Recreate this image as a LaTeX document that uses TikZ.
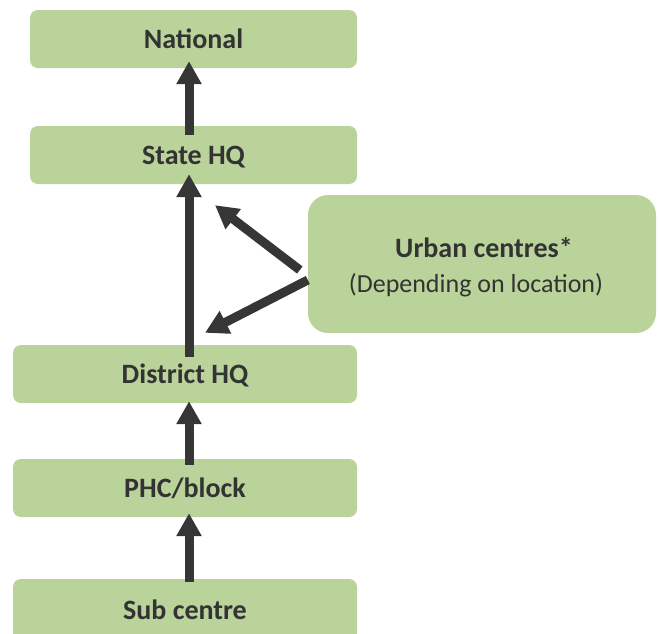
\documentclass[tikz,border=0pt]{standalone}
\usepackage{fontspec}
\setmainfont{Carlito}
\usetikzlibrary{arrows.meta,positioning,calc}
\definecolor{boxgreen}{HTML}{B9D39A}
\definecolor{arrowgray}{HTML}{363636}
\definecolor{textgray}{HTML}{333333}
\tikzset{
  lvlbox/.style={fill=boxgreen, draw=none, rounded corners=8pt, inner sep=0pt,
    text=textgray, text height=19.6pt, text depth=0pt,
    font=\fontsize{28}{32}\selectfont\bfseries},
  urbanbox/.style={fill=boxgreen, draw=none, rounded corners=20pt, inner sep=0pt},
  boldlabel/.style={text=textgray, inner sep=0pt, anchor=base,
    font=\fontsize{28}{32}\selectfont\bfseries},
  plainlabel/.style={text=textgray, inner sep=0pt, anchor=base,
    font=\fontsize{26}{30}\selectfont},
  uparrow/.style={draw=arrowgray, line width=9pt,
    -{Triangle[width=24pt,length=23pt]}}
}
\begin{document}
\begin{tikzpicture}[x=1pt,y=-1pt]
\useasboundingbox (0,0) rectangle (659,633);
\clip (0,0) rectangle (659,633);
\node[lvlbox, minimum width=327pt, minimum height=58pt] (national) at (193.5,39) {National};
\node[lvlbox, minimum width=327pt, minimum height=58pt] (state) at (193.5,155) {State HQ};
\node[urbanbox, minimum width=348pt, minimum height=138pt] (urban) at (482,264) {};
\node[boldlabel] (urbantitle) at (484,257) {Urban centres*};
\node[plainlabel] (urbannote) at (476,292) {(Depending on location)};
\node[lvlbox, minimum width=344pt, minimum height=58pt] (district) at (185,374) {District HQ};
\node[lvlbox, minimum width=344pt, minimum height=58pt] (phc) at (185,488) {PHC/block};
\node[urbanbox, rounded corners=8pt, minimum width=344pt, minimum height=62pt] (sub) at (185,610) {};
\node[boldlabel] (sublabel) at (185,619) {Sub centre};
% vertical arrows
\draw[uparrow] ([xshift=-4.5pt,yshift=-9pt]state.north) -- ([xshift=-4.5pt,yshift=7pt]national.south);
\draw[uparrow] ([xshift=4pt,yshift=-12pt]district.north) -- ([xshift=-4.5pt,yshift=10pt]state.south);
\draw[uparrow] ([xshift=4pt,yshift=-6pt]phc.north) -- ([xshift=4pt,yshift=2pt]district.south);
\draw[uparrow] ([xshift=4pt,yshift=-3pt]sub.north) -- ([xshift=4pt,yshift=4pt]phc.south);
% diagonal arrows from urban centres
\draw[uparrow] ([shift={(-8,6)}]urban.west) -- ([shift={(21.5,21)}]state.south);
\draw[uparrow] ([shift={(0,16)}]urban.west) -- ([shift={(20,-12)}]district.north);
\end{tikzpicture}
\end{document}
